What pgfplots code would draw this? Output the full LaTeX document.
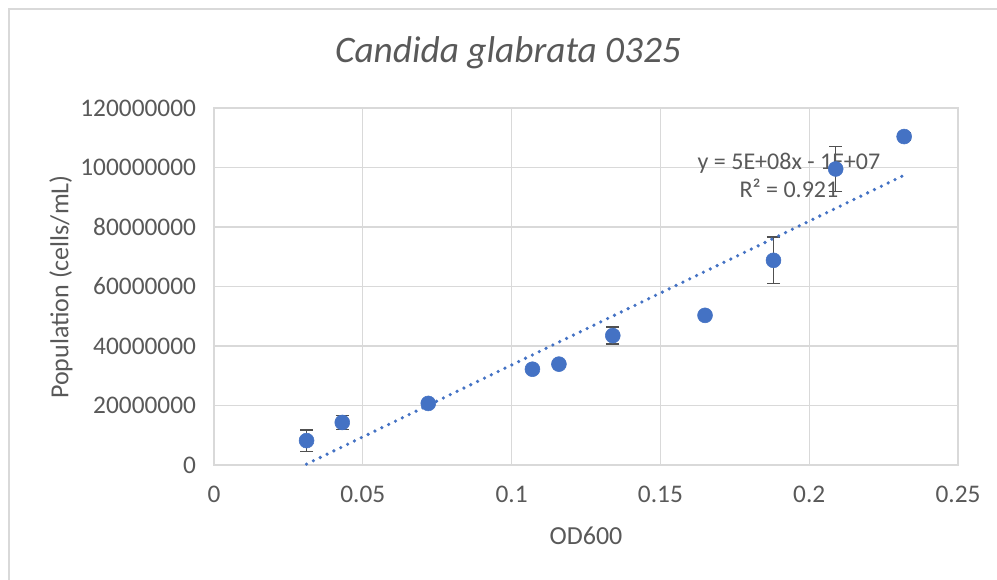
\documentclass[border=0pt]{standalone}
\usepackage{pgfplots}
\pgfplotsset{compat=1.18}
\usepackage{fontspec}
\setmainfont{Carlito}
\definecolor{txt}{HTML}{595959}
\definecolor{grd}{HTML}{D9D9D9}
\definecolor{blu}{HTML}{4472C4}
\definecolor{err}{HTML}{505050}
\begin{document}
\begin{tikzpicture}
\useasboundingbox (-160.5pt,-85.5pt) rectangle (587.25pt,348.75pt);
\fill[white] (-160.5pt,-85.5pt) rectangle (587.25pt,348.75pt);
\draw[grd, line width=1.1pt] (-153.75pt,-90pt) -- (-153.75pt,342pt) -- (595pt,342pt);
\begin{axis}[
  scale only axis,
  width=558pt, height=267.75pt,
  xmin=0, xmax=0.25, ymin=0, ymax=120000000,
  scaled y ticks=false, scaled x ticks=false,
  xtick={0,0.05,0.1,0.15,0.2,0.25},
  xticklabels={0,0.05,0.1,0.15,0.2,0.25},
  ytick={0,20000000,40000000,60000000,80000000,100000000,120000000},
  yticklabels={0,20000000,40000000,60000000,80000000,100000000,120000000},
  major tick length=0pt,
  grid=major,
  major grid style={grd, line width=0.8pt},
  axis line style={grd, line width=0.8pt},
  tick label style={font=\fontsize{19pt}{22pt}\selectfont, text=txt},
  xticklabel style={yshift=-12pt},
  yticklabel style={xshift=-10pt},
  clip=false,
]
\addplot[only marks, mark=*, mark size=5.6pt, mark options={fill=blu, draw=blu},
  error bars/.cd, y dir=both, y explicit,
  error bar style={err, line width=1.1pt},
  error mark options={rotate=90, mark size=4.9pt, err, line width=1.1pt}]
  table[x=x, y=y, y error=e] {
x      y          e
0.0311 8200000    3600000
0.0431 14300000   2400000
0.0720 20700000   600000
0.1070 32200000   900000
0.1159 33900000   700000
0.1340 43500000   2900000
0.1650 50300000   400000
0.1880 68800000   7800000
0.2089 99500000   7500000
0.2319 110400000  1400000
};
\addplot[blu, line width=2.7pt, line cap=round, dash pattern=on 0pt off 5.7pt] coordinates {(0.0311,300000) (0.2319,97400000)};
\node[text=txt, align=center, font=\fontsize{18pt}{21pt}\selectfont] at (axis cs:0.1932,97500000) {y = 5E+08x - 1E+07\\R² = 0.921};
\end{axis}
\node[text=txt, anchor=base, font=\fontsize{28pt}{30pt}\selectfont\itshape] at (220.5pt,301.5pt) {Candida glabrata 0325};
\node[text=txt, font=\fontsize{19.5pt}{22pt}\selectfont] at (279pt,-53.25pt) {OD600};
\node[text=txt, rotate=90, font=\fontsize{19.5pt}{22pt}\selectfont] at (-114.75pt,133.5pt) {Population (cells/mL)};
\end{tikzpicture}
\end{document}
